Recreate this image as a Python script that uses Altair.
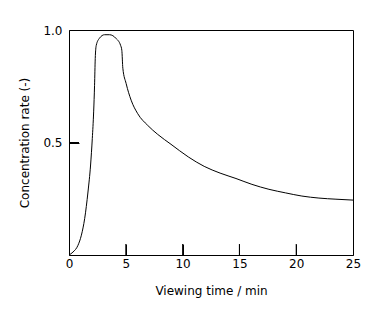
import altair as alt
import pandas as pd

# Curve values
time_min = [0.0, 0.35, 0.79, 1.09, 1.38, 1.67, 1.90, 2.05, 2.17, 2.25, 2.31, 2.40,
            2.69, 3.13, 3.57, 4.15, 4.54, 4.65, 4.74, 5.03, 5.47, 6.05, 6.93, 7.81,
            8.98, 10.5, 11.9, 13.3, 14.7, 16.1, 17.6, 19.07, 20.5, 22.0, 23.5, 25.0]
conc_rate = [0.0, 0.013, 0.043, 0.088, 0.162, 0.28, 0.40, 0.517, 0.636, 0.754, 0.873, 0.932,
             0.964, 0.979, 0.979, 0.962, 0.932, 0.91, 0.83, 0.762, 0.688, 0.628, 0.576, 0.536,
             0.492, 0.436, 0.394, 0.364, 0.34, 0.314, 0.292, 0.276, 0.262, 0.253, 0.248, 0.244]

x_label_values = [0, 5, 10, 15, 20, 25]
x_inner_ticks = [5, 10, 15, 20]
y_label_values = [0.5, 1.0]
y_inner_ticks = [0.5]

FONT = "DejaVu Sans"
W, H = 284, 225
TICK = 11

curve = pd.DataFrame({"t": time_min, "c": conc_rate})
xt = pd.DataFrame({"t": x_inner_ticks})
yt = pd.DataFrame({"c": y_inner_ticks})

xscale = alt.Scale(domain=[0, 25], nice=False, zero=False)
yscale = alt.Scale(domain=[0, 1], nice=False, zero=False)

xaxis = alt.Axis(title="Viewing time / min", values=x_label_values, ticks=True,
                 tickSize=TICK, tickColor="black", tickWidth=1,
                 offset=-TICK, domain=False, grid=False, labelPadding=3,
                 labelFlush=False, titleY=TICK + 35, titleBaseline="middle")
yaxis = alt.Axis(title="Concentration rate (-)", values=y_label_values, format=".1f",
                 ticks=True, tickSize=10, tickColor="black", tickWidth=1,
                 offset=-10, domain=False, grid=False, labelPadding=7,
                 labelFlush=False, titleX=-10 - 45, titleY=H / 2, titleAngle=-90,
                 titleAlign="center", titleBaseline="middle")

line = alt.Chart(curve).mark_line(color="black", strokeWidth=1, interpolate="monotone").encode(
    x=alt.X("t:Q", scale=xscale, axis=xaxis),
    y=alt.Y("c:Q", scale=yscale, axis=yaxis),
)

# Inward ticks: double-length ticks centred on the frame edge, clipped to the plot area.
xtick_marks = alt.Chart(xt).mark_tick(color="black", size=2 * TICK, thickness=1,
                                      opacity=1, clip=True).encode(
    x=alt.X("t:Q"),
    y=alt.value(H),
)

ytick_marks = alt.Chart(yt).mark_tick(color="black", size=20, thickness=1,
                                      opacity=1, clip=True).encode(
    y=alt.Y("c:Q"),
    x=alt.value(0),
)

chart = alt.layer(line, xtick_marks, ytick_marks).properties(
    width=W, height=H,
    autosize=alt.AutoSizeParams(type="none"),
    padding={"left": 69, "top": 30, "right": 30, "bottom": 54},
    background="white",
).configure_view(
    stroke="black", strokeWidth=1
).configure_axis(
    labelFont=FONT, labelFontSize=12, labelColor="black",
    titleFont=FONT, titleFontSize=12, titleColor="black", titleFontWeight="normal",
)

chart.save("out.html", embed_options={"renderer": "svg", "actions": False})
